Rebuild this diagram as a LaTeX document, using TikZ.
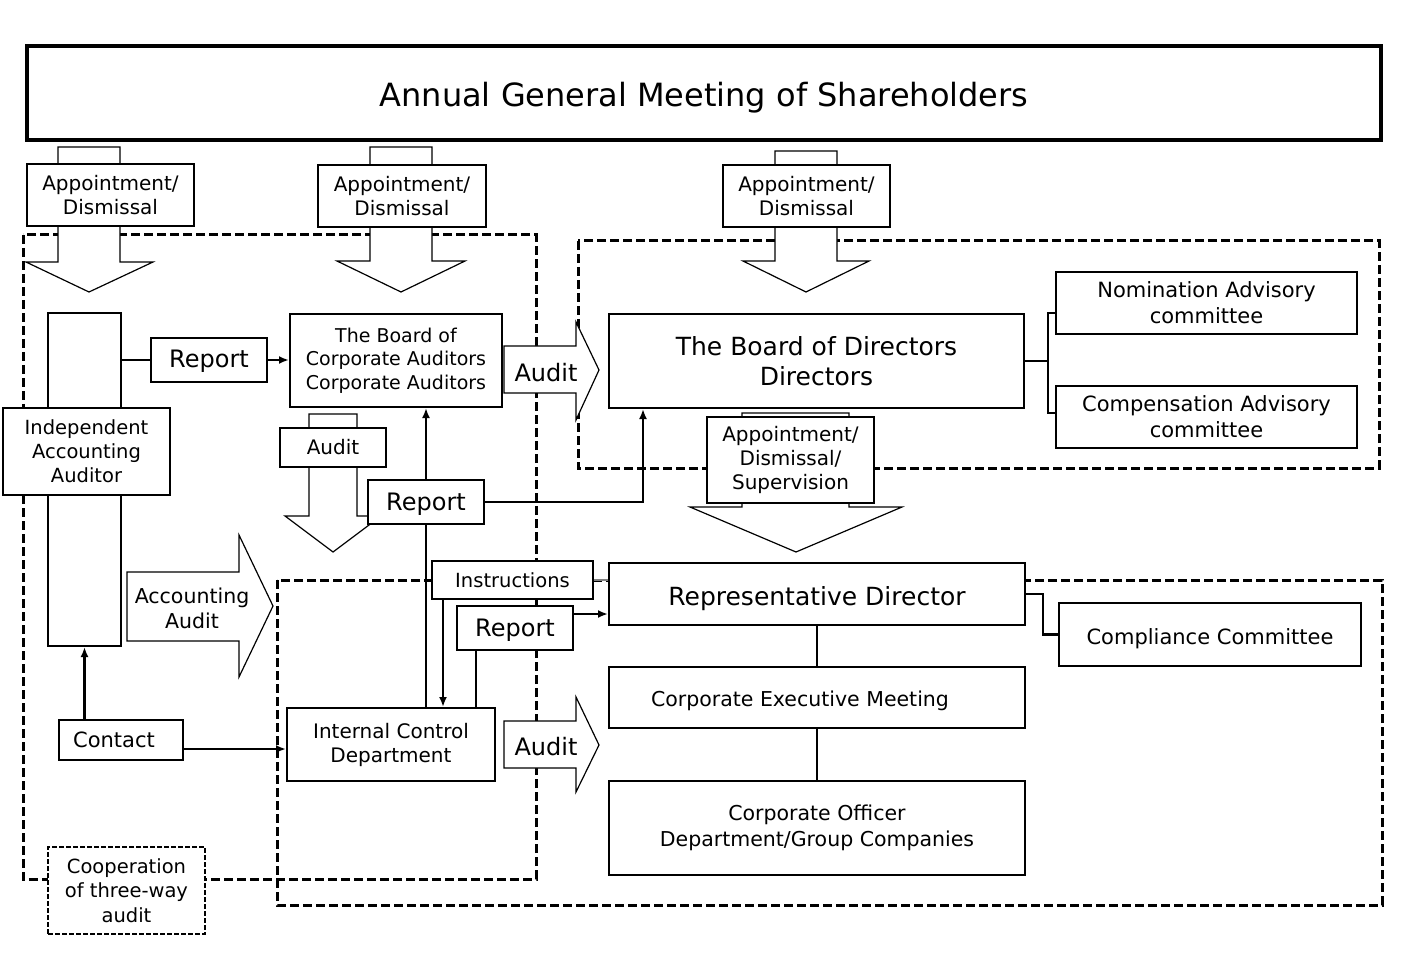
\documentclass[tikz,border=0pt]{standalone}
\usepackage{fontspec}
\setmainfont{DejaVu Sans}
\usetikzlibrary{arrows.meta}
\usetikzlibrary{calc,positioning}
\definecolor{colorTrait}{HTML}{000000}
\definecolor{colorGris}{HTML}{808080}
\def\colorTrait{colorTrait}
\def\colorGris{colorGris}

\begin{document}
\begin{tikzpicture}[x=1pt,y=-1pt,
  boite/.style={draw=\colorTrait, line width=2pt, fill=white, inner sep=0pt, align=center},
  zone/.style={draw=\colorTrait, line width=3pt, dash pattern=on 9pt off 4pt},
  bloc/.style={draw=\colorTrait, line width=1.2pt, fill=white},
  lien/.style={draw=\colorTrait, line width=2.5pt},
  lienfl/.style={lien, -{Latex[length=10pt,width=8pt]}},
  petit/.style={font=\fontsize{20}{24}\selectfont},
  moyen/.style={font=\fontsize{21}{26}\selectfont},
  grand/.style={font=\fontsize{25}{30}\selectfont}]

\useasboundingbox (0,0) rectangle (1408,957);

% Zones en pointilles
\draw[zone] (23,235) rectangle (536,879);
\draw[zone] (578,241) rectangle (1379,468);
\draw[zone] (277,580) rectangle (1382,905);

% Grosses fleches vers le bas
\draw[bloc] (58,147) -- (58,262) -- (26,262) -- (89,292) -- (153,262) -- (120,262) -- (120,147) -- cycle;
\draw[bloc] (370,147) -- (370,261) -- (337,261) -- (401,292) -- (465,261) -- (432,261) -- (432,147) -- cycle;
\draw[bloc] (775,151) -- (775,261) -- (743,261) -- (806,292) -- (869,261) -- (837,261) -- (837,151) -- cycle;
\draw[bloc] (309,414) -- (309,516) -- (285,516) -- (333,552) -- (381,516) -- (357,516) -- (357,414) -- cycle;
\draw[bloc] (742,413) -- (742,507) -- (690,507) -- (796,552) -- (902,507) -- (849,507) -- (849,413) -- cycle;

% Grosses fleches vers la droite
\draw[bloc] (504,346) -- (576,346) -- (576,322) -- (599,370) -- (576,420) -- (576,393) -- (504,393) -- cycle;
\draw[bloc] (504,721) -- (576,721) -- (576,697) -- (599,745) -- (576,792) -- (576,768) -- (504,768) -- cycle;
\draw[bloc] (127,572) -- (239,572) -- (239,535) -- (273,606) -- (239,677) -- (239,641) -- (127,641) -- cycle;

\node[font=\fontsize{24}{29}\selectfont] (audit1) at (546,373) {Audit};
\node[font=\fontsize{24}{29}\selectfont] (audit2) at (546,747) {Audit};
\node[align=center, font=\fontsize{20.5}{25}\selectfont] (accaudit) at (192,608) {Accounting\\Audit};

% Assemblee
\node[boite, line width=3.5pt, minimum width=1354, minimum height=94, text height=35pt, text depth=7pt,
  font=\fontsize{32}{38}\selectfont] (agm) at (704,93) {Annual General Meeting of Shareholders};

% Etiquettes des fleches
\node[boite, petit, minimum width=167, minimum height=62] (nomaa) at (110.5,195) {Appointment/\\Dismissal};
\node[boite, petit, minimum width=168, minimum height=62] (nomca) at (402,196) {Appointment/\\Dismissal};
\node[boite, petit, minimum width=167, minimum height=62] (nombd) at (806.5,196) {Appointment/\\Dismissal};
\node[boite, petit, minimum width=106, minimum height=39] (auditca) at (333,447.5) {Audit};
\node[boite, petit, minimum width=167, minimum height=86] (nomrep) at (790.5,460) {Appointment/\\Dismissal/\\Supervision};

% Organes
\node[boite, font=\fontsize{19}{23.5}\selectfont, minimum width=212, minimum height=93] (ca) at (396,360.5) {The Board of\\Corporate Auditors\\Corporate Auditors};
\node[boite, grand, minimum width=415, minimum height=94] (bd) at (816.5,361) {The Board of Directors\\Directors};
\node[boite, moyen, minimum width=301, minimum height=62] (nom) at (1206.5,303) {Nomination Advisory\\committee};
\node[boite, moyen, minimum width=301, minimum height=62] (comp) at (1206.5,417) {Compensation Advisory\\committee};
\node[boite, grand, minimum width=416, minimum height=62, text height=28pt, text depth=6pt] (rep) at (817,594) {Representative Director};
\node[boite, moyen, minimum width=302, minimum height=63, text height=24pt, text depth=5pt] (comply) at (1210,634.5) {Compliance Committee};
\node[boite, font=\fontsize{20.5}{26}\selectfont, minimum width=416, minimum height=61, text height=22pt, text depth=5pt] (cem) at (817,697.5) {\hspace*{-34pt}Corporate Executive Meeting};
\node[boite, font=\fontsize{20.5}{26}\selectfont, minimum width=416, minimum height=94] (off) at (817,828) {Corporate Officer\\Department/Group Companies};

% Auditeur independant
\node[boite, minimum width=73, minimum height=333] (colonne) at (84.5,479.5) {};
\node[boite, font=\fontsize{19.5}{24}\selectfont, minimum width=167, minimum height=87] (iaa) at (86.5,451.5) {Independent\\Accounting\\Auditor};

% Petites boites
\node[boite, font=\fontsize{24}{29}\selectfont, minimum width=116, minimum height=44, text height=22pt, text depth=6pt] (rep1) at (209,360) {Report};
\node[boite, font=\fontsize{24}{29}\selectfont, minimum width=116, minimum height=44, text height=22pt, text depth=6pt] (rep2) at (426,502) {Report};
\node[boite, font=\fontsize{19.5}{24}\selectfont, minimum width=161, minimum height=38] (instr) at (512.5,580) {Instructions};
\node[boite, font=\fontsize{24}{29}\selectfont, minimum width=116, minimum height=44, text height=22pt, text depth=6pt] (rep3) at (515,628) {Report};
\node[boite, petit, minimum width=208, minimum height=73] (icd) at (391,744.5) {Internal Control\\Department};
\node[boite, moyen, minimum width=124, minimum height=40] (contact) at (121,740) {\hspace*{-14pt}Contact};
\node[boite, font=\fontsize{19.5}{24.5}\selectfont, line width=1.5pt, dash pattern=on 5pt off 2pt,
  minimum width=157, minimum height=87] (coop) at (126.5,890.5) {Cooperation\\of three-way\\audit};

% Liaisons
\draw[lien] (colonne.east |- rep1.west) -- (rep1.west);
\draw[lienfl] (rep1.east) -- (ca.west |- rep1.east);
\draw[lienfl] (rep2.north) -- (rep2.north |- ca.south);
\draw[lien] (rep2.south |- icd.north) -- (rep2.south);
\draw[lienfl] (rep2.east) -| ($(bd.south west)+(35,0)$);

\coordinate (i1) at ($(instr.south west)+(12,0)$);
\draw[lienfl] (i1) -- (i1 |- icd.north);
\draw[\colorGris, line width=2pt] (instr.east) -- (instr.east -| rep.west);

\coordinate (r1) at ($(rep3.south west)+(20,0)$);
\draw[lien] (r1) -- (r1 |- icd.north);
\coordinate (r2) at ($(rep3.north east)+(0,9)$);
\draw[draw=\colorTrait, line width=2pt, -{Latex[length=10pt,width=8pt]}] (r2) -- (r2 -| rep.west);

\coordinate (c1) at ($(contact.south east)+(0,-12)$);
\draw[lienfl] (c1) -- (c1 -| icd.west);
\draw[lienfl] (colonne.south |- contact.north) -- (colonne.south);

\draw[lien] (rep.south) -- (cem.north);
\draw[lien] (cem.south) -- (off.north);
\draw[lien] (rep.east) -- ++(17,0) |- (comply.west);

\draw[lien] (bd.east) -- ++(23,0) coordinate (b1);
\draw[lien] ($(nom.west)+(0,10)$) -| (b1);
\draw[lien] ($(comp.west)+(0,-4)$) -| (b1);

\end{tikzpicture}
\end{document}
